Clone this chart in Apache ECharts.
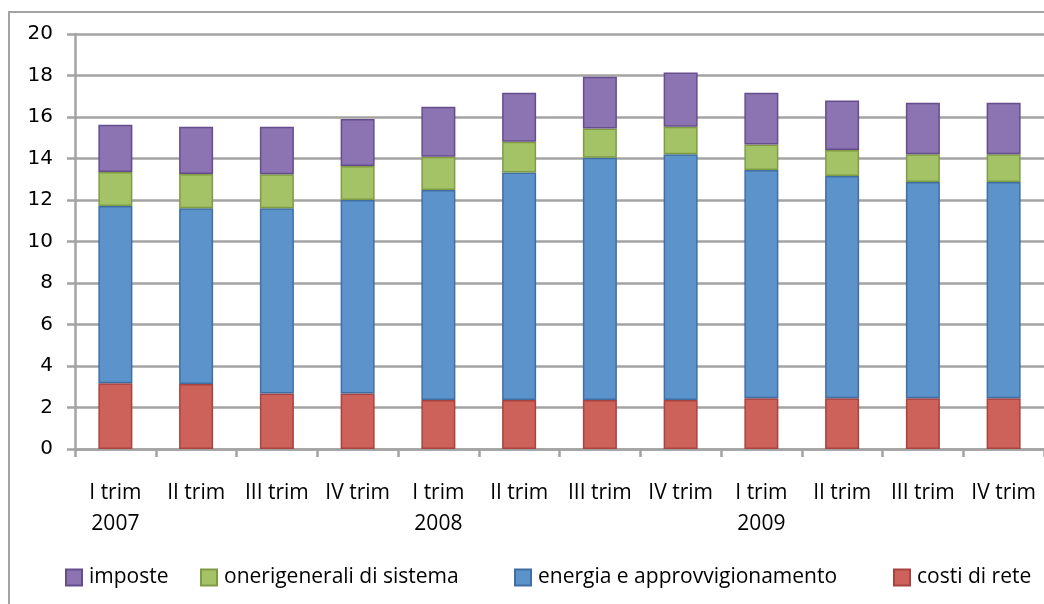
<!DOCTYPE html>
<html>
<head>
<meta charset="utf-8">
<script src="https://cdn.jsdelivr.net/npm/echarts@6/dist/echarts.min.js"></script>
<style>html,body{margin:0;padding:0;background:#fff}#c{width:1044px;height:604px}</style>
</head>
<body>
<div id="c"></div>
<script>
const categories = ['I trim\n2007','II trim','III trim','IV trim','I trim\n2008','II trim','III trim','IV trim','I trim\n2009','II trim','III trim','IV trim'];
const costiDiRete = [3.17, 3.13, 2.68, 2.68, 2.36, 2.36, 2.36, 2.36, 2.44, 2.44, 2.44, 2.44];
const energia = [8.54, 8.47, 8.92, 9.32, 10.12, 10.97, 11.68, 11.84, 11.01, 10.72, 10.43, 10.43];
const oneri = [1.64, 1.65, 1.64, 1.64, 1.61, 1.48, 1.41, 1.33, 1.23, 1.25, 1.33, 1.33];
const imposte = [2.28, 2.28, 2.29, 2.26, 2.41, 2.36, 2.49, 2.61, 2.49, 2.38, 2.49, 2.49];
const yTicks = [0, 20, 2];
const legendNames = ['imposte', 'onerigenerali di sistema', 'energia e approvvigionamento', 'costi di rete'];

const chart = echarts.init(document.getElementById('c'));
const grey = '#a3a3a3';
const narrow = '"Open Sans", sans-serif';
function ser(name, data, fill, border) {
  return {
    name, type: 'bar', stack: 'tot', data, barWidth: 34,
    itemStyle: { color: fill, borderColor: border, borderWidth: 1.5 },
    emphasis: { disabled: true }
  };
}
const legendLefts = [60, 195, 509, 888];
chart.setOption({
  animation: false,
  graphic: [{
    type: 'rect', shape: { x: 9, y: 12, width: 1100, height: 700 },
    style: { fill: 'none', stroke: grey, lineWidth: 2 }, silent: true, z: 0
  }],
  grid: { left: 75, top: 34, width: 972, height: 415, containLabel: false },
  xAxis: {
    type: 'category', data: categories,
    axisLine: { lineStyle: { color: grey, width: 2.5 } },
    axisTick: { show: true, length: 8, lineStyle: { color: grey, width: 2.5 } },
    axisLabel: { color: '#000', fontFamily: narrow, fontSize: 21, lineHeight: 31, margin: 29, interval: 0, align: 'center' }
  },
  yAxis: {
    type: 'value', min: yTicks[0], max: yTicks[1], interval: yTicks[2],
    axisLine: { show: true, lineStyle: { color: grey, width: 2.5 } },
    axisTick: { show: true, length: 8, lineStyle: { color: grey, width: 2.5 } },
    splitLine: { lineStyle: { color: grey, width: 2.5 } },
    axisLabel: { color: '#000', fontFamily: '"DejaVu Sans", sans-serif', fontSize: 20, margin: 22 }
  },
  legend: legendNames.map((n, i) => ({
    left: legendLefts[i], top: 562, itemWidth: 16, itemHeight: 16, itemGap: 0,
    data: [n], icon: 'rect',
    textStyle: { color: '#000', fontFamily: narrow, fontSize: 21, padding: [0, 0, 0, 2] }
  })),
  series: [
    ser('costi di rete', costiDiRete, '#cc625a', '#a84340'),
    ser('energia e approvvigionamento', energia, '#5d93cb', '#3f6fa3'),
    ser('onerigenerali di sistema', oneri, '#a4c266', '#7f9c45'),
    ser('imposte', imposte, '#8c73b2', '#664d8c')
  ]
});
</script>
</body>
</html>
